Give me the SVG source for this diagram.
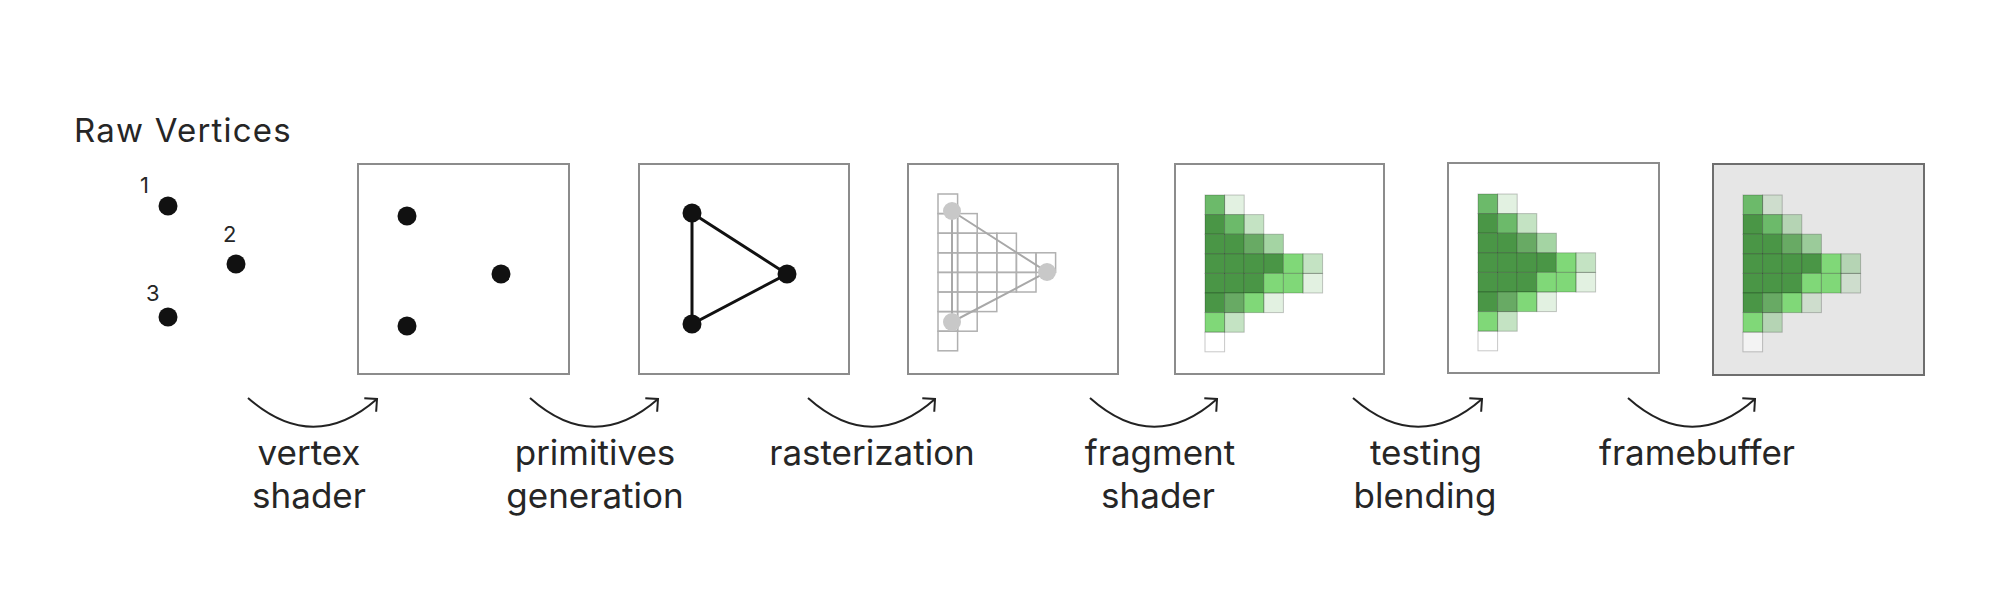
<svg xmlns="http://www.w3.org/2000/svg" xmlns:xlink="http://www.w3.org/1999/xlink" width="1992" height="598" viewBox="0 0 1992 598">
<style>
.box{fill:#fff;stroke:#8c8c8c;stroke-width:2}
.lbl{font-family:Inter,"Noto Sans","Liberation Sans",sans-serif;font-size:35px;fill:#262626;text-anchor:middle}
.num{font-family:Inter,"Noto Sans","Liberation Sans",sans-serif;font-size:22px;fill:#262626}
.dot{fill:#111}
.arc{fill:none;stroke:#222;stroke-width:2}
.rc{fill:none;stroke:#b0b0b0;stroke-width:1.5}
.gc{stroke:#000;stroke-opacity:0.22;stroke-width:1}
.D{fill:#4a9646}
.M{fill:#6cba6a}
.MG{fill:#68aa64}
.L{fill:#80d878}
.S{fill:#6cba6a;fill-opacity:0.62}
.P{fill:#6cba6a;fill-opacity:0.4}
.VP{fill:#6cba6a;fill-opacity:0.2}
.W{fill:#fff;fill-opacity:0.5}
</style>
<defs>
<marker id="ah" markerUnits="userSpaceOnUse" markerWidth="24" markerHeight="24" refX="0" refY="0" viewBox="-12 -12 24 24" orient="auto" overflow="visible">
<path d="M-9,-9 L0,0 L-9,9" fill="none" stroke="#222" stroke-width="2"/>
</marker>
<g id="frag">
<rect class="gc M" x="0" y="0" width="19.6" height="19.6"/>
<rect class="gc D" x="0" y="19.6" width="19.6" height="19.6"/>
<rect class="gc D" x="0" y="39.2" width="19.6" height="19.6"/>
<rect class="gc D" x="0" y="58.8" width="19.6" height="19.6"/>
<rect class="gc D" x="0" y="78.4" width="19.6" height="19.6"/>
<rect class="gc D" x="0" y="98" width="19.6" height="19.6"/>
<rect class="gc L" x="0" y="117.6" width="19.6" height="19.6"/>
<rect class="gc W" x="0" y="137.2" width="19.6" height="19.6"/>
<rect class="gc VP" x="19.6" y="0" width="19.6" height="19.6"/>
<rect class="gc M" x="19.6" y="19.6" width="19.6" height="19.6"/>
<rect class="gc D" x="19.6" y="39.2" width="19.6" height="19.6"/>
<rect class="gc D" x="19.6" y="58.8" width="19.6" height="19.6"/>
<rect class="gc D" x="19.6" y="78.4" width="19.6" height="19.6"/>
<rect class="gc MG" x="19.6" y="98" width="19.6" height="19.6"/>
<rect class="gc P" x="19.6" y="117.6" width="19.6" height="19.6"/>
<rect class="gc P" x="39.2" y="19.6" width="19.6" height="19.6"/>
<rect class="gc MG" x="39.2" y="39.2" width="19.6" height="19.6"/>
<rect class="gc D" x="39.2" y="58.8" width="19.6" height="19.6"/>
<rect class="gc D" x="39.2" y="78.4" width="19.6" height="19.6"/>
<rect class="gc L" x="39.2" y="98" width="19.6" height="19.6"/>
<rect class="gc S" x="58.8" y="39.2" width="19.6" height="19.6"/>
<rect class="gc D" x="58.8" y="58.8" width="19.6" height="19.6"/>
<rect class="gc L" x="58.8" y="78.4" width="19.6" height="19.6"/>
<rect class="gc VP" x="58.8" y="98" width="19.6" height="19.6"/>
<rect class="gc L" x="78.4" y="58.8" width="19.6" height="19.6"/>
<rect class="gc L" x="78.4" y="78.4" width="19.6" height="19.6"/>
<rect class="gc P" x="98" y="58.8" width="19.6" height="19.6"/>
<rect class="gc VP" x="98" y="78.4" width="19.6" height="19.6"/>
</g>
</defs>
<rect width="1992" height="598" fill="#fff"/>

<g id="raw-vertices">
<text x="74" y="142" class="lbl" style="text-anchor:start;font-size:33px;letter-spacing:1.2px">Raw Vertices</text>
<text x="140" y="193" class="num">1</text>
<circle class="dot" cx="168" cy="206" r="9.5"/>
<text x="223" y="242" class="num">2</text>
<circle class="dot" cx="236" cy="264" r="9.5"/>
<text x="146" y="301" class="num">3</text>
<circle class="dot" cx="168" cy="317" r="9.5"/>
</g>

<g id="vertex-shader-output">
<rect class="box" x="358" y="164" width="211" height="210"/>
<circle class="dot" cx="407" cy="216" r="9.5"/>
<circle class="dot" cx="501" cy="274" r="9.5"/>
<circle class="dot" cx="407" cy="326" r="9.5"/>
</g>

<g id="primitives-output">
<rect class="box" x="639" y="164" width="210" height="210"/>
<polygon points="692,213 787,274 692,324" fill="none" stroke="#111" stroke-width="3"/>
<circle class="dot" cx="692" cy="213" r="9.5"/>
<circle class="dot" cx="787" cy="274" r="9.5"/>
<circle class="dot" cx="692" cy="324" r="9.5"/>
</g>

<g id="rasterization-output">
<rect class="box" x="908" y="164" width="210" height="210"/>
<g transform="translate(938,194)">
<rect class="rc" x="0" y="0" width="19.6" height="19.6"/>
<rect class="rc" x="0" y="19.6" width="19.6" height="19.6"/>
<rect class="rc" x="0" y="39.2" width="19.6" height="19.6"/>
<rect class="rc" x="0" y="58.8" width="19.6" height="19.6"/>
<rect class="rc" x="0" y="78.4" width="19.6" height="19.6"/>
<rect class="rc" x="0" y="98" width="19.6" height="19.6"/>
<rect class="rc" x="0" y="117.6" width="19.6" height="19.6"/>
<rect class="rc" x="0" y="137.2" width="19.6" height="19.6"/>
<rect class="rc" x="19.6" y="19.6" width="19.6" height="19.6"/>
<rect class="rc" x="19.6" y="39.2" width="19.6" height="19.6"/>
<rect class="rc" x="19.6" y="58.8" width="19.6" height="19.6"/>
<rect class="rc" x="19.6" y="78.4" width="19.6" height="19.6"/>
<rect class="rc" x="19.6" y="98" width="19.6" height="19.6"/>
<rect class="rc" x="19.6" y="117.6" width="19.6" height="19.6"/>
<rect class="rc" x="39.2" y="39.2" width="19.6" height="19.6"/>
<rect class="rc" x="39.2" y="58.8" width="19.6" height="19.6"/>
<rect class="rc" x="39.2" y="78.4" width="19.6" height="19.6"/>
<rect class="rc" x="39.2" y="98" width="19.6" height="19.6"/>
<rect class="rc" x="58.8" y="39.2" width="19.6" height="19.6"/>
<rect class="rc" x="58.8" y="58.8" width="19.6" height="19.6"/>
<rect class="rc" x="58.8" y="78.4" width="19.6" height="19.6"/>
<rect class="rc" x="78.4" y="58.8" width="19.6" height="19.6"/>
<rect class="rc" x="78.4" y="78.4" width="19.6" height="19.6"/>
<rect class="rc" x="98" y="58.8" width="19.6" height="19.6"/>
</g>
<polygon points="952,211 1047,272 952,322" fill="none" stroke="#a8a8a8" stroke-width="2"/>
<circle cx="952" cy="211" r="9" fill="#c8c8c8"/>
<circle cx="1047" cy="272" r="9" fill="#c8c8c8"/>
<circle cx="952" cy="322" r="9" fill="#c8c8c8"/>
</g>

<g id="fragment-shader-output">
<rect class="box" x="1175" y="164" width="209" height="210"/>
<use xlink:href="#frag" href="#frag" x="1205" y="195"/>
</g>

<g id="testing-blending-output">
<rect class="box" x="1448" y="163" width="211" height="210"/>
<use xlink:href="#frag" href="#frag" x="1478" y="194"/>
</g>

<g id="framebuffer-output">
<rect class="box" x="1713" y="164" width="211" height="211" style="fill:#e6e6e6;stroke:#6e6e6e"/>
<use xlink:href="#frag" href="#frag" x="1743" y="195"/>
</g>

<g id="connectors">
<path class="arc" d="M248,398 Q313,455 377,399" marker-end="url(#ah)"/>
<path class="arc" d="M530,398 Q594,455 658,399" marker-end="url(#ah)"/>
<path class="arc" d="M808,398 Q872,455 935,399" marker-end="url(#ah)"/>
<path class="arc" d="M1090,398 Q1154,455 1217,399" marker-end="url(#ah)"/>
<path class="arc" d="M1353,398 Q1418,455 1482,399" marker-end="url(#ah)"/>
<path class="arc" d="M1628,398 Q1692,455 1755,399" marker-end="url(#ah)"/>
</g>

<g id="labels">
<text class="lbl" x="309" y="465">vertex</text>
<text class="lbl" x="309" y="508">shader</text>
<text class="lbl" x="595" y="465">primitives</text>
<text class="lbl" x="595" y="508">generation</text>
<text class="lbl" x="872" y="465">rasterization</text>
<text class="lbl" x="1160" y="465">fragment</text>
<text class="lbl" x="1158" y="508">shader</text>
<text class="lbl" x="1426" y="465">testing</text>
<text class="lbl" x="1425" y="508">blending</text>
<text class="lbl" x="1697" y="465">framebuffer</text>
</g>
</svg>
